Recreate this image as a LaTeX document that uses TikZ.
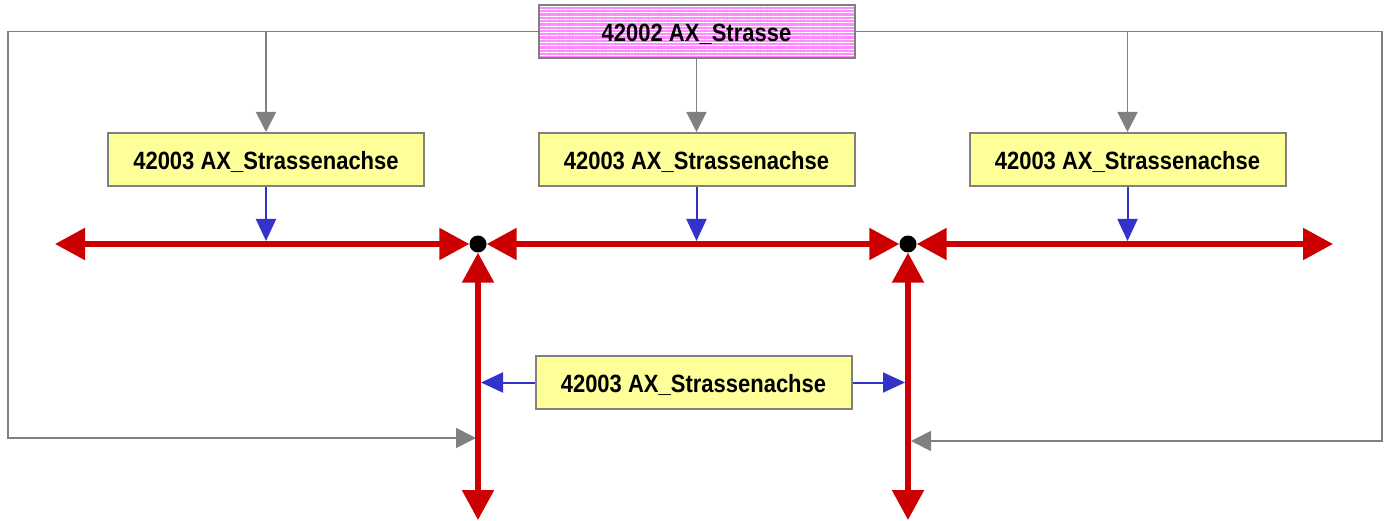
\documentclass[tikz,border=0pt]{standalone}
\usepackage{fontspec}
\setmainfont{Liberation Sans}[FakeStretch=0.88]
\usetikzlibrary{arrows.meta,patterns.meta}
\definecolor{axred}{RGB}{204,0,0}
\definecolor{axblue}{RGB}{51,51,204}
\definecolor{axgray}{RGB}{128,128,128}
\definecolor{axyellow}{RGB}{255,255,153}
\definecolor{axpink}{RGB}{255,140,255}
\begin{document}
\begin{tikzpicture}[x=1pt,y=-1pt,
  objbox/.style={draw=axgray,line width=2pt,minimum width=316pt,minimum height=53pt,inner sep=0pt,
    text height=20.5pt,text depth=0pt,font=\fontsize{25}{28}\selectfont\bfseries},
  achse/.style={objbox,fill=axyellow},
  strasse/.style={objbox,preaction={fill=axpink},pattern={Lines[distance=3.3pt,line width=0.9pt]},pattern color=white},
  knoten/.style={circle,fill=black,minimum size=17pt,inner sep=0pt},
  redline/.style={draw=axred,line width=5.5pt,{Triangle[length=30pt,width=31pt]}-{Triangle[length=30pt,width=31pt]}},
  blueline/.style={draw=axblue,line width=2pt,-{Triangle[length=22pt,width=20pt]}},
  grayline/.style={draw=axgray,line width=1.8pt,-{Triangle[length=20pt,width=20pt]}}]
\useasboundingbox (0,0) rectangle (1386,521);
\node[strasse] (top) at (696.5,31.5) {42002 AX\_Strasse};
\node[achse] (s1) at (266,159.5) {42003 AX\_Strassenachse};
\node[achse] (s2) at (696.5,159.5) {42003 AX\_Strassenachse};
\node[achse] (s3) at (1127.5,159.5) {42003 AX\_Strassenachse};
\node[achse] (s4) at (693.5,382.5) {42003 AX\_Strassenachse};
\node[knoten] (j1) at (478,244) {};
\node[knoten] (j2) at (908,244) {};
\coordinate (l1) at (55,244);
\coordinate (r1) at (1333,244);
\coordinate (b1) at (478,520);
\coordinate (b2) at (908,520);
\coordinate (gl) at (8,31.5);
\coordinate (gr) at (1382,31.5);
\coordinate (gla) at (476,438);
\coordinate (gra) at (911,441);
\draw[grayline] (top.west) -- (gl) |- (gla);
\draw[grayline] (top.east) -- (gr) |- (gra);
\draw[grayline] (s1.north |- top.west) -- (s1);
\draw[grayline] (top) -- (s2);
\draw[grayline] (s3.north |- top.east) -- (s3);
\draw[redline] (l1) -- (j1);
\draw[redline] (j1) -- (j2);
\draw[redline] (j2) -- (r1);
\draw[redline] (j1) -- (b1);
\draw[redline] (j2) -- (b2);
\draw[blueline,shorten >=3pt] (s1) -- (s1 |- l1);
\draw[blueline,shorten >=3pt] (s2) -- (s2 |- l1);
\draw[blueline,shorten >=3pt] (s3) -- (s3 |- l1);
\draw[blueline,shorten >=3pt] (s4.west) -- (j1 |- s4.west);
\draw[blueline,shorten >=3pt] (s4.east) -- (j2 |- s4.east);
\end{tikzpicture}
\end{document}
